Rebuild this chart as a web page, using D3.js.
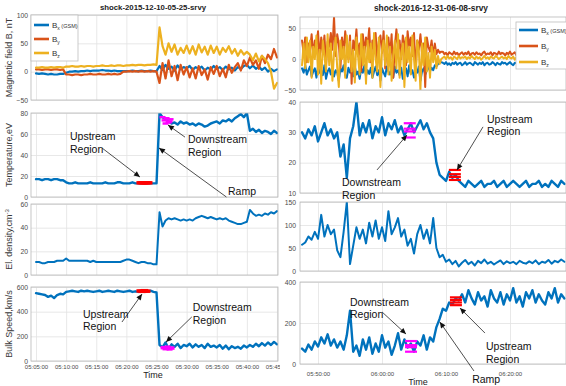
<!DOCTYPE html>
<html><head><meta charset="utf-8">
<script src="https://cdn.jsdelivr.net/npm/d3@7"></script>
<style>
body{margin:0;background:#fff;}
svg{display:block;}
</style></head><body>
<svg id="chart" width="566" height="386"></svg>
<script>
// ---------- data: two shock crossings ----------
const stepSec = 30;       // plasma moments and left-hand field, 30 s samples
const rightBStep = 15;    // right-hand field, 15 s samples
const leftStart = "05:05:00";
const rightStart = "05:47:30";
const leftTitle = "shock-2015-12-10-05-25-srvy";
const rightTitle = "shock-2016-12-31-06-08-srvy";
const leftTicks = ["05:05:00","05:10:00","05:15:00","05:20:00","05:25:00","05:30:00","05:35:00","05:40:00","05:45:00"];
const rightTicks = ["05:50:00","06:00:00","06:10:00","06:20:00"];

// 2015-12-10 event
const leftBx = [-3,-4,-3,-4,-5,-4,-5,-5,-4,-4, -2,0,0,1,0,1,1,2,1,2, 2,2,3,2,2,1,2,1,1,1, 1,1,2,1,1,2,1,1,2,1, 1,
  10,3,12,5,9,2,11,4,8,6, 10,3,8,5,9,2,7,4,10,5, 8,3,9,4,7,2,8,5,10,12, 6,11,5,9,3,7,0,5,1,4];
const leftBy = [4,4,3,4,4,3,4,4,3,4, -5,-5,-6,-5,-5,-6,-5,-5,-4,-5, -5,-4,-5,-5,-4,-5,-4,-5,-4,0, 0,1,0,1,0,1,0,1,0,1, 0,
  -20,15,-12,20,-8,10,-15,12,-5,8, -10,6,-12,10,-6,4,-14,8,-4,10, -8,5,-10,12,-2,8,15,2,20,10, 25,12,20,5,28,15,30,22,40,25];
const leftBz = [7,7,8,7,7,8,7,8,8,7, 9,9,10,9,9,10,9,10,10,9, 10,10,11,10,10,11,10,11,11,10, 11,11,12,11,12,12,11,12,12,13, 12,
  78,45,30,50,35,48,30,42,33,46, 32,45,30,48,34,44,30,46,33,44, 30,42,35,45,32,40,28,38,30,35, 30,20,32,18,28,22,15,0,-30,-20];
const leftT = [17,17,16,17,17,16,17,17,16,16, 14,13,13,14,13,13,13,13,14,13, 13,13,13,14,13,13,13,14,14,13, 13,13,14,13,13,13,13,13,13,13, 13,
  80,76,74,72,70,71,69,72,70,71, 69,70,68,70,69,67,68,70,71,72, 70,73,72,74,72,75,77,79,76,80, 63,65,62,64,61,63,62,60,63,61];
const leftN = [11,11,10,10,11,11,11,12,12,12, 14,12,12,12,12,12,12,12,11,12, 11,11,11,11,11,11,11,11,11,12, 13,13,12,11,10,11,11,10,10,9, 9,
  53,41,46,48,47,48,47,46,47,46, 47,46,48,49,50,49,48,49,48,47, 48,47,48,46,45,44,43,43,44,45, 55,52,50,51,50,52,51,53,52,54];
const leftV = [550,545,540,535,520,530,510,535,545,540, 560,565,570,565,560,570,565,570,565,560, 565,570,560,565,570,565,560,570,565,560, 565,570,560,565,560,565,560,565,570,560, 555,
  130,110,150,100,135,115,140,105,130,120, 140,110,135,115,130,105,140,115,125,110, 130,100,125,95,120,105,115,100,125,110, 130,115,140,120,145,125,150,130,155,135];

// 2016-12-31 event (field at 15 s)
const rightBx = [-15,-22,-10,-25,-18,-12,-28,-20,-15,-30, -12,-22,-18,-26,-10,-32,-20,-15,-25,-12, -28,-18,-22,-35,-15,-20,-10,-26,-30,-14,
  -22,-18,-28,-12,-25,-20,-32,-15,-22,-10, -27,-18,-24,-14,-30,-20,-12,-26,-18,-35, -15,-22,-28,-12,-20,-25,-16,-30,-12,-22,
  -18,-26,-14,-32,-20,-15,-28,-10,-24,-18, -30,-16,-22,-12,-35,-20,-15,-25,-18,-12, -20,-14,-18,-10,-12,-8,-6,-5,
  -6,-8,-5,-9,-7,-10,-6,-8,-5,-9, -7,-6,-10,-8,-5,-9,-7,-6,-8,-10, -5,-7,-9,-6,-8,-5,-10,-7,-6,-9, -8,-5,-7,-10,-6,-8,-9,-5,-7,-6,
  -9,-7,-5,-8,-10,-6,-7,-9,-5,-8, -6,-10,-7,-5,-9,-8,-6,-7,-10,-5, -8,-9,-6,-7,-5,-10,-8,-6,-9,-7, -5,-8,-10,-6,-7,-9,-5,-8];
const rightBy = [30,10,35,-5,25,15,40,5,30,20, 45,0,35,10,38,-10,28,20,42,15, 68,5,40,25,-15,35,10,45,20,0,
  38,-40,30,15,48,5,25,-20,40,10, 35,20,50,-5,30,15,42,0,28,38, 10,45,-15,25,35,5,40,-30,20,48,
  15,30,0,38,25,-10,45,20,35,5, 42,-20,30,15,40,10,25,-45,35,20, 12,30,5,25,8,15,10,12,
  12,8,10,6,11,9,7,12,8,10, 6,9,11,7,10,8,12,6,9,10, 7,11,8,9,6,10,12,7,9,8, 11,6,10,9,7,12,8,10,9,6,
  10,8,12,7,9,11,6,10,8,9, 12,7,10,8,11,6,9,12,7,10, 8,11,9,6,10,12,7,9,8,11, 6,10,9,12,7,8,10,9];
const rightBz = [-10,25,-15,35,-5,30,-30,20,0,38, -25,15,-40,30,5,-20,40,-10,25,-35, 10,35,-15,-45,30,0,20,-30,38,-5,
  28,-20,15,-38,35,5,-25,40,-10,20, -40,30,-5,25,-30,42,0,-20,35,-45, 15,30,-10,38,-25,20,-35,5,30,-15,
  40,-30,10,25,-45,35,-5,20,-25,38, 0,-35,30,15,-50,25,-10,35,-20,10, -30,20,-5,15,-15,5,-8,0,
  2,4,0,5,1,3,-1,4,2,0, 5,1,3,2,4,0,3,1,5,2, 0,4,1,3,-1,2,5,1,3,0, 4,2,1,5,3,0,2,4,1,3,
  0,5,2,1,4,-1,3,2,0,4, 1,5,3,0,2,4,1,3,5,0, 2,4,1,-1,3,5,2,0,4,1, 3,2,5,0,4,1,3,2];
const rightT = [30,28,31,29,32,27,30,33,29,31,28,30, 22,26,15, 28,32,40, 29,33,30,34,28,32,30,35,29,33,31,34,30, 32,29,31,33,30,32,34,31,33,30,28, 20,16,15,14, 17,15,16,14,
  13,12,14,13,12,13,14,12,13,13, 14,12,13,14,12,13,14,13,12,13, 14,12,13,13,14,12,13,12,14,13, 12,14,13];
const rightN = [57,62,75,68,85,70,122,75,100,80, 90,45,30,85,150,15,55,95,70,90, 60,105,75,110,70,95,65,130,80,95, 115,75,90,55,70,38,80,100,70,90, 60,115,50,30,35,20,25,15,22,10,
  18,24,15,20,12,22,17,25,16,20, 14,19,23,15,21,17,20,15,22,18, 16,21,17,23,15,20,18,24,16,22, 19,25,20];
const rightV = [75,60,95,70,110,85,130, 100,145,90,120,80, 110,70,140,260, 60,90,40,120,70, 130,50,100,60,140,80,110,45,90,150, 70,120,80,100,60,110, 90,140,70,130,110, 180,220,270,260, 300,290,320,310,
  340,300,360,320,290,350,310,330,280,360, 320,300,350,290,340,310,370,300,330,280, 350,320,360,300,340,310,290,350,320,370, 300,340,320];

// averaging intervals (upstream / downstream)
const leftUpT = {times:["05:22:20","05:22:40","05:23:00","05:23:20","05:23:40"], values:[13.5,13.5,13.5,13.5,13.5]};
const leftDownT = {times:["05:26:00","05:26:20","05:26:40","05:27:00","05:27:20","05:26:30","05:27:10"], values:[76,73,75,71,74,70,72]};
const leftUpV = {times:["05:22:20","05:22:40","05:23:00","05:23:20"], values:[568,565,570,566]};
const leftDownV = {times:["05:26:10","05:26:30","05:26:50","05:27:10","05:27:30"], values:[108,100,112,98,105]};
const rightDownT = {times:["06:04:20","06:04:20","06:04:20","06:04:20"], values:[33,31.2,30.3,28.3]};
const rightUpT = {times:["06:11:23","06:11:23","06:11:23","06:11:23"], values:[17.6,16.2,15.3,14.3]};
const rightDownV = {times:["06:04:32","06:04:32","06:04:32","06:04:32"], values:[112,92,82,60]};
const rightUpV = {times:["06:11:33","06:11:33","06:11:33","06:11:33"], values:[325,312,300,287]};

// ---------- helpers ----------
const sec = s => { const p = s.split(":").map(Number); return p[0]*3600 + p[1]*60 + p[2]; };
const hms = v => [Math.floor(v/3600), Math.floor(v%3600/60), v%60].map(d => String(d).padStart(2,"0")).join(":");
const NARROW = '"Liberation Sans Narrow","Liberation Sans",Arial,sans-serif';
const REG = '"Liberation Sans",Arial,sans-serif';
const COL = {bx:"#0072BD", by:"#D95319", bz:"#EDB120", up:"#FF0000", down:"#FF00FF"};

const svg = d3.select("#chart");
const defs = svg.append("defs");
defs.append("marker").attr("id","arrow").attr("viewBox","0 0 10 10")
  .attr("refX",10).attr("refY",5).attr("markerUnits","userSpaceOnUse")
  .attr("markerWidth",7).attr("markerHeight",6).attr("orient","auto")
  .append("path").attr("d","M0,0.5L10,5L0,9.5Z").attr("fill","#111");

let clipCount = 0;

function drawColumn(col) {
  const root = svg.append("g");
  if (col.clipWidth) {
    const id = "col" + (clipCount++);
    defs.append("clipPath").attr("id", id).append("rect")
      .attr("x", 0).attr("y", 0).attr("width", col.clipWidth).attr("height", 386);
    root.attr("clip-path", `url(#${id})`);
  }
  const x = col.x;
  const [x0, x1] = x.range();
  const t0 = sec(col.start);

  col.panels.forEach((p, pi) => {
    const y = p.y;
    const [yb, yt] = y.range();
    const g = root.append("g");
    g.append("rect").attr("x", x0).attr("y", yt).attr("width", x1 - x0).attr("height", yb - yt).attr("fill", "#fff");

    // grid + tick labels
    const ya = g.append("g").attr("transform", `translate(${x0},0)`)
      .call(d3.axisLeft(y).tickValues(p.yTicks).tickSize(-(x1 - x0)).tickPadding(col.yPad).tickFormat(d3.format("d")));
    const last = pi === col.panels.length - 1;
    const xa = g.append("g").attr("transform", `translate(0,${yb})`)
      .call(d3.axisBottom(x).tickValues(col.ticks.map(sec)).tickSize(-(yb - yt)).tickPadding(col.xPad)
        .tickFormat(last ? hms : ""));
    [ya, xa].forEach(a => {
      a.select(".domain").remove();
      a.selectAll(".tick line").attr("stroke", "#e2e2e2").attr("stroke-width", 0.8);
      a.selectAll(".tick text").attr("fill", "#4a4a4a").attr("font-family", NARROW);
    });
    ya.selectAll(".tick text").attr("font-size", 6.8);
    xa.selectAll(".tick text").attr("font-size", 6);

    // data lines
    const cid = "p" + (clipCount++);
    defs.append("clipPath").attr("id", cid).append("rect")
      .attr("x", x0).attr("y", yt).attr("width", x1 - x0).attr("height", yb - yt);
    const dg = g.append("g").attr("clip-path", `url(#${cid})`);
    p.series.forEach(s => {
      const step = s.step || stepSec;
      const line = d3.line().x((d, i) => x(t0 + i * step)).y(d => y(d));
      dg.append("path").datum(s.values).attr("d", line).attr("fill", "none")
        .attr("stroke", s.color).attr("stroke-width", s.width || 2)
        .attr("stroke-linejoin", "round").attr("stroke-linecap", "round");
    });
    (p.marks || []).forEach(m => {
      m.set.values.forEach((v, i) => {
        const cx = x(sec(m.set.times[i]));
        dg.append("line").attr("x1", cx - m.half).attr("x2", cx + m.half)
          .attr("y1", y(v)).attr("y2", y(v)).attr("stroke", m.color).attr("stroke-width", m.width);
      });
    });

    // frame
    g.append("rect").attr("x", x0).attr("y", yt).attr("width", x1 - x0).attr("height", yb - yt)
      .attr("fill", "none").attr("stroke", "#b8b8b8").attr("stroke-width", 0.8);

    // y label
    if (p.label) {
      const lt = g.append("text").attr("transform", `translate(${col.labelX},${(yt + yb) / 2}) rotate(-90)`)
        .attr("text-anchor", "middle").attr("font-family", REG).attr("font-size", 9).attr("fill", "#3a3a3a");
      lt.append("tspan").text(p.label);
      if (p.labelSup) lt.append("tspan").attr("baseline-shift", "super").attr("font-size", 6).text(p.labelSup);
    }

    if (p.legend) drawLegend(g, p.legend);

    // annotations
    (p.notes || []).forEach(n => {
      const tx = x(sec(n.text[0])), ty = y(n.text[1]);
      const t = g.append("text").attr("font-family", NARROW).attr("font-size", 10.5).attr("fill", "#111");
      n.lines.forEach((s, k) => t.append("tspan").attr("x", tx).attr("y", ty + k * 12.5).text(s));
      g.append("line").attr("x1", x(sec(n.from[0]))).attr("y1", y(n.from[1]))
        .attr("x2", x(sec(n.to[0]))).attr("y2", y(n.to[1]))
        .attr("stroke", "#222").attr("stroke-width", 0.8).attr("marker-end", "url(#arrow)");
    });
  });

  root.append("text").attr("x", col.titleX).attr("y", col.titleY).attr("text-anchor", "middle")
    .attr("font-family", NARROW).attr("font-weight", "bold").attr("font-size", col.titleSize).attr("fill", "#222").text(col.title);
  root.append("text").attr("x", col.timeX).attr("y", col.timeY).attr("text-anchor", "middle")
    .attr("font-family", NARROW).attr("font-size", 9).attr("fill", "#222").text("Time");
}

const legendRows = [{sub:"x", extra:" (GSM)", color:COL.bx}, {sub:"y", extra:"", color:COL.by}, {sub:"z", extra:"", color:COL.bz}];
function drawLegend(g, L) {
  g.append("rect").attr("x", L.x).attr("y", L.y).attr("width", L.w).attr("height", L.h)
    .attr("fill", "#fff").attr("stroke", "#bdbdbd").attr("stroke-width", 0.8);
  legendRows.forEach((r, i) => {
    const cy = L.y + L.first + i * L.gap;
    g.append("line").attr("x1", L.x + 3).attr("x2", L.x + 3 + L.len).attr("y1", cy).attr("y2", cy)
      .attr("stroke", r.color).attr("stroke-width", 2.6);
    const t = g.append("text").attr("x", L.x + L.len + 6).attr("y", cy + 3)
      .attr("font-family", NARROW).attr("font-size", 8).attr("fill", "#333");
    t.append("tspan").text("B");
    t.append("tspan").attr("font-size", 5).attr("dy", 2).text(r.sub);
    if (r.extra) t.append("tspan").attr("font-size", 5.5).attr("dy", -2).text(r.extra);
  });
}

// ---------- left column ----------
drawColumn({
  x: d3.scaleLinear().domain([sec("05:04:10"), sec("05:45:10")]).range([31, 278]),
  start: leftStart, ticks: leftTicks, clipWidth: 280, yPad: 3, xPad: 4, labelX: 12,
  title: leftTitle, titleX: 153, titleY: 10, titleSize: 7.8, timeX: 153, timeY: 378,
  panels: [
    { y: d3.scaleLinear().domain([-50, 100]).range([100, 15]), yTicks: [-50, 0, 50, 100],
      label: "Magnetic field B, nT",
      series: [{values: leftBx, color: COL.bx, width: 2.2}, {values: leftBy, color: COL.by, width: 2.2}, {values: leftBz, color: COL.bz, width: 2.2}],
      legend: {x: 31, y: 15, w: 47, h: 46, first: 10, gap: 14, len: 15} },
    { y: d3.scaleLinear().domain([0, 80]).range([197, 113]), yTicks: [0, 20, 40, 60, 80],
      label: "Temperature,eV",
      series: [{values: leftT, color: COL.bx, width: 2.4}],
      marks: [{set: leftUpT, color: COL.up, half: 4, width: 3.5}, {set: leftDownT, color: COL.down, half: 3, width: 2.5}],
      notes: [
        {lines: ["Upstream", "Region"], text: ["05:10:38", 54], from: ["05:15:57", 46.7], to: ["05:22:15", 19]},
        {lines: ["Downstream", "Region"], text: ["05:30:14", 51.4], from: ["05:29:44", 57], to: ["05:26:54", 68.6]},
        {lines: ["Ramp"], text: ["05:36:52", 1.9], from: ["05:36:36", 0], to: ["05:25:25", 46.7]}
      ] },
    { y: d3.scaleLinear().domain([0, 60]).range([275, 204]), yTicks: [0, 20, 40, 60],
      label: "El. density,cm", labelSup: "-3",
      series: [{values: leftN, color: COL.bx}] },
    { y: d3.scaleLinear().domain([0, 600]).range([361, 287]), yTicks: [0, 200, 400, 600],
      label: "Bulk Speed,km/s",
      series: [{values: leftV, color: COL.bx, width: 2.4}],
      marks: [{set: leftUpV, color: COL.up, half: 4, width: 3.5}, {set: leftDownV, color: COL.down, half: 3, width: 3.5}],
      notes: [
        {lines: ["Upstream", "Region"], text: ["05:12:48", 349], from: ["05:19:16", 316], to: ["05:22:36", 543]},
        {lines: ["Downstream", "Region"], text: ["05:31:01", 405], from: ["05:30:51", 357], to: ["05:26:35", 154]}
      ] }
  ]
});

// ---------- right column ----------
drawColumn({
  x: d3.scaleLinear().domain([sec("05:47:11"), sec("06:28:45")]).range([300, 566]),
  start: rightStart, ticks: rightTicks, clipWidth: null, yPad: 4, xPad: 8, labelX: 0,
  title: rightTitle, titleX: 431, titleY: 11, titleSize: 8.4, timeX: 418, timeY: 385,
  panels: [
    { y: d3.scaleLinear().domain([-50, 68]).range([90, 17]), yTicks: [-50, 0, 50],
      series: [{values: rightBx, color: COL.bx, step: rightBStep}, {values: rightBy, color: COL.by, step: rightBStep}, {values: rightBz, color: COL.bz, step: rightBStep}],
      legend: {x: 516, y: 22, w: 60, h: 47, first: 8, gap: 16, len: 19} },
    { y: d3.scaleLinear().domain([10, 40]).range([193, 102]), yTicks: [10, 20, 30, 40],
      series: [{values: rightT, color: COL.bx, width: 2.4}],
      marks: [{set: rightDownT, color: COL.down, half: 6, width: 2.2}, {set: rightUpT, color: COL.up, half: 6, width: 2.2}],
      notes: [
        {lines: ["Downstream", "Region"], text: ["05:53:45", 12.3], from: ["05:59:13", 17.6], to: ["06:03:54", 29.1]},
        {lines: ["Upstream", "Region"], text: ["06:16:24", 33.1], from: ["06:15:47", 31.8], to: ["06:11:43", 17.6]}
      ] },
    { y: d3.scaleLinear().domain([0, 150]).range([271, 202]), yTicks: [0, 50, 100, 150],
      series: [{values: rightN, color: COL.bx}] },
    { y: d3.scaleLinear().domain([0, 400]).range([364, 282]), yTicks: [0, 200, 400],
      series: [{values: rightV, color: COL.bx, width: 2.4}],
      marks: [{set: rightDownV, color: COL.down, half: 6, width: 2.2}, {set: rightUpV, color: COL.up, half: 6, width: 2.2}],
      notes: [
        {lines: ["Downstream", "Region"], text: ["05:55:00", 283], from: ["06:00:00", 254], to: ["06:03:45", 146]},
        {lines: ["Upstream", "Region"], text: ["06:16:15", 68], from: ["06:16:05", 151], to: ["06:12:11", 273]},
        {lines: ["Ramp"], text: ["06:14:05", -93], from: ["06:14:22", -34], to: ["06:09:02", 205]}
      ] }
  ]
});
</script>
</body></html>
